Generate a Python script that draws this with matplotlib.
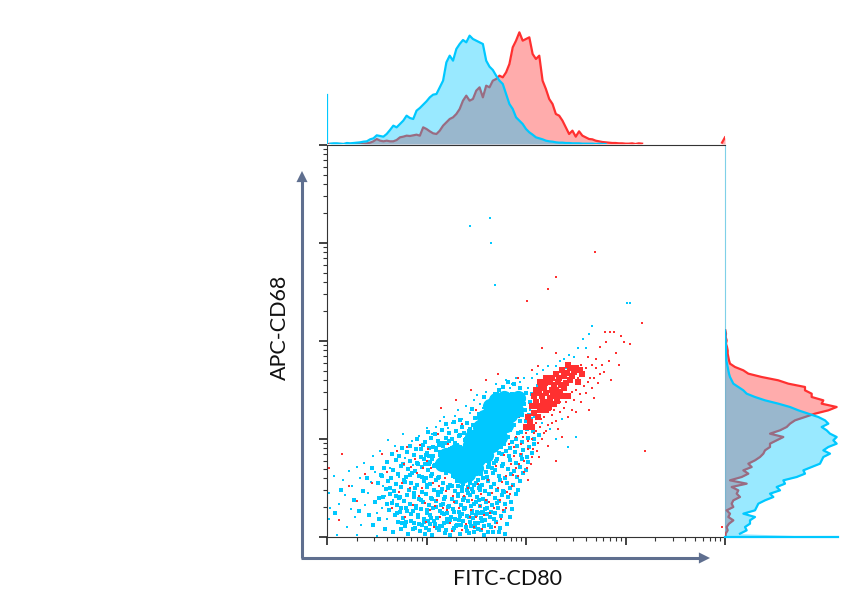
import numpy as np
import matplotlib
matplotlib.use('Agg')
import matplotlib.pyplot as plt
from matplotlib.ticker import LogLocator, NullFormatter

plt.rcParams['font.family'] = ['Lato', 'DejaVu Sans']

# histogram heights (bins are 1/30 decade wide)
blue_top = [148, 1, 2, 2, 1, 0, 3, 2, 3, 4, 5, 7, 8, 14, 17, 26, 24, 22, 30, 42, 55, 50, 60, 70, 85, 78, 75, 100,
            108, 118, 128, 140, 148, 150, 170, 190, 245, 265, 250, 285, 300, 312, 305, 325, 315, 310, 305, 300,
            250, 232, 222, 205, 190, 180, 150, 120, 105, 80, 70, 60, 45, 35, 28, 20, 17, 14, 10, 8, 7, 5, 4, 4,
            3, 3, 2, 2, 2, 1, 1, 1, 1, 0, 1, 0, 0]
red_top = [0, 0, 0, 0, 0, 0, 0, 0, 0, 0, 0, 1, 2, 4, 8, 15, 10, 8, 10, 8, 8, 12, 20, 22, 25, 24, 26, 28, 25, 50,
           45, 38, 32, 30, 40, 55, 65, 75, 80, 90, 105, 130, 145, 130, 135, 160, 170, 140, 175, 170, 190, 195,
           205, 200, 215, 240, 290, 310, 335, 310, 315, 320, 270, 255, 265, 190, 165, 135, 120, 90, 85, 70, 50,
           30, 40, 22, 38, 25, 20, 15, 14, 10, 8, 6, 5, 4, 3, 3, 2, 2, 1, 1, 2, 0, 2, 1]
red_top_end = [4, 20]

blue_right = [340, 45, 65, 60, 75, 75, 90, 55, 90, 95, 100, 120, 145, 135, 165, 155, 180, 175, 215, 240, 235, 260,
              285, 290, 295, 315, 295, 310, 335, 325, 335, 315, 305, 290, 310, 300, 280, 250, 220, 195, 160, 120,
              90, 65, 55, 40, 25, 20, 15, 12, 10, 8, 6, 4, 4, 3, 3, 3, 2, 2, 1, 1, 0]
red_right = [2, 2, 8, 5, 12, 25, 10, 15, 5, 25, 20, 25, 45, 35, 40, 20, 65, 15, 50, 70, 55, 80, 70, 90, 105, 115, 120,
             135, 135, 155, 175, 135, 165, 185, 195, 210, 240, 270, 310, 335, 290, 295, 260, 260, 240, 240, 190, 160,
             110, 70, 55, 30, 15, 12, 10, 8, 8, 6, 3, 5, 2, 3, 1]

# scatter points in decades (log10 x, log10 y)
blue_pts = np.array([
    [1.64, 3.26], [1.44, 3.17], [1.65, 3.00], [1.69, 2.57], [3.02, 2.39], [3.05, 2.39], [2.66, 2.15], [2.63, 2.07],
    [2.57, 2.02], [2.60, 1.93], [2.52, 1.93], [2.48, 1.84], [2.43, 1.86], [2.38, 1.82], [2.34, 1.80], [2.30, 1.75],
    [2.40, 1.72], [2.22, 1.74], [2.17, 1.70], [2.11, 1.66], [2.06, 1.62], [1.98, 1.62], [2.02, 1.52], [1.86, 1.56],
    [1.80, 1.60], [1.72, 1.47], [1.77, 1.40], [1.62, 1.38], [1.57, 1.32], [1.51, 1.45], [1.44, 1.27], [1.36, 1.20],
    [1.29, 1.23], [1.22, 1.11], [1.14, 1.18], [1.06, 1.05], [1.00, 1.11], [0.92, 1.03], [0.85, 0.98], [0.76, 1.05],
    [0.68, 0.93], [0.61, 0.99], [0.53, 0.88], [0.46, 0.83], [0.37, 0.76], [0.30, 0.71], [0.22, 0.67], [0.16, 0.58],
    [0.07, 0.62], [0.12, 0.34], [0.18, 0.43], [0.25, 0.52], [0.33, 0.60], [0.41, 0.45], [0.48, 0.66], [0.56, 0.52],
    [0.63, 0.70], [0.66, 0.38], [0.72, 0.61], [0.78, 0.81], [0.81, 0.47], [0.86, 0.73], [0.55, 0.30], [0.60, 0.18],
    [0.58, 0.42], [0.50, 0.25], [0.44, 0.56], [0.38, 0.33], [0.28, 0.20], [0.20, 0.10], [0.24, 0.29], [0.34, 0.12],
    [0.02, 0.45], [0.02, 0.18], [0.03, 0.30], [0.10, 0.02], [0.30, 0.02], [0.50, 0.01], [2.10, 1.42], [2.14, 1.48],
    [2.20, 1.34], [2.24, 1.10], [2.30, 1.00], [2.42, 0.92], [2.50, 1.02], [2.36, 1.20], [2.28, 1.42], [2.08, 1.22],
    [2.12, 1.28], [2.16, 1.16], [2.04, 1.30], [1.94, 1.58], [1.84, 1.52], [1.90, 1.62], [1.70, 1.56], [1.60, 1.48],
    [1.54, 1.36], [1.48, 1.40], [1.40, 1.34], [1.32, 1.30], [1.26, 1.16], [1.18, 1.22], [1.10, 1.12], [1.04, 1.00],
])
# the thick of the lower cloud
blue_cloud = np.array([
    [0.66, 0.05], [0.74, 0.08], [0.81, 0.03], [0.93, 0.06], [0.99, 0.09], [1.06, 0.02], [1.13, 0.07], [1.19, 0.04],
    [1.28, 0.09], [1.34, 0.03], [1.41, 0.06], [1.52, 0.08], [1.58, 0.02], [1.67, 0.05], [1.74, 0.09], [1.79, 0.03],
    [0.71, 0.15], [0.78, 0.11], [0.87, 0.14], [0.95, 0.12], [1.02, 0.16], [1.09, 0.13], [1.16, 0.11], [1.22, 0.15],
    [1.31, 0.12], [1.37, 0.16], [1.45, 0.11], [1.49, 0.14], [1.56, 0.16], [1.63, 0.12], [1.70, 0.15], [1.81, 0.13],
    [0.68, 0.22], [0.76, 0.19], [0.84, 0.23], [0.91, 0.20], [0.97, 0.18], [1.04, 0.22], [1.11, 0.19], [1.18, 0.23],
    [1.25, 0.20], [1.29, 0.18], [1.36, 0.23], [1.43, 0.20], [1.50, 0.22], [1.55, 0.19], [1.61, 0.23], [1.68, 0.18],
    [1.75, 0.21], [1.84, 0.20], [0.62, 0.28], [0.73, 0.26], [0.79, 0.30], [0.86, 0.27], [0.94, 0.29], [1.00, 0.25],
    [1.07, 0.30], [1.14, 0.27], [1.21, 0.25], [1.27, 0.29], [1.33, 0.26], [1.39, 0.30], [1.46, 0.27], [1.53, 0.25],
    [1.59, 0.29], [1.65, 0.26], [1.72, 0.30], [1.78, 0.27], [1.86, 0.29], [0.65, 0.35], [0.70, 0.33], [0.77, 0.37],
    [0.83, 0.34], [0.89, 0.32], [0.96, 0.36], [1.03, 0.33], [1.10, 0.37], [1.17, 0.34], [1.23, 0.32], [1.30, 0.36],
    [1.35, 0.33], [1.42, 0.37], [1.48, 0.34], [1.54, 0.32], [1.60, 0.36], [1.66, 0.33], [1.73, 0.37], [1.79, 0.34],
    [1.85, 0.36], [0.56, 0.41], [0.63, 0.44], [0.72, 0.40], [0.80, 0.43], [0.87, 0.41], [0.92, 0.39], [0.99, 0.44],
    [1.05, 0.40], [1.12, 0.43], [1.19, 0.41], [1.26, 0.39], [1.32, 0.44], [1.38, 0.40], [1.44, 0.43], [1.51, 0.41],
    [1.57, 0.39], [1.63, 0.44], [1.69, 0.40], [1.76, 0.43], [1.82, 0.41], [1.90, 0.44], [0.59, 0.49], [0.67, 0.47],
    [0.74, 0.51], [0.82, 0.48], [0.88, 0.50], [0.95, 0.46], [1.01, 0.51], [1.08, 0.48], [1.15, 0.46], [1.22, 0.50],
    [1.29, 0.47], [1.36, 0.51], [1.41, 0.48], [1.47, 0.46], [1.53, 0.50], [1.59, 0.47], [1.65, 0.51], [1.71, 0.48],
    [1.78, 0.46], [1.84, 0.50], [1.92, 0.48], [0.51, 0.55], [0.61, 0.57], [0.69, 0.54], [0.77, 0.58], [0.84, 0.55],
    [0.90, 0.53], [0.97, 0.57], [1.04, 0.54], [1.10, 0.58], [1.17, 0.55], [1.24, 0.53], [1.31, 0.57], [1.37, 0.54],
    [1.43, 0.58], [1.50, 0.55], [1.56, 0.53], [1.62, 0.57], [1.68, 0.54], [1.74, 0.58], [1.81, 0.55], [1.87, 0.53],
    [1.94, 0.57], [0.54, 0.63], [0.64, 0.60], [0.71, 0.64], [0.79, 0.61], [0.85, 0.65], [0.92, 0.62], [0.99, 0.60],
    [1.06, 0.64], [1.13, 0.61], [1.20, 0.65], [1.27, 0.62], [1.55, 0.64], [1.61, 0.61], [1.67, 0.65], [1.73, 0.62],
    [1.79, 0.60], [1.85, 0.64], [1.91, 0.61], [1.97, 0.65], [0.57, 0.70], [0.66, 0.68], [0.74, 0.72], [0.81, 0.69],
    [0.88, 0.67], [0.95, 0.71], [1.02, 0.68], [1.08, 0.72], [1.15, 0.69], [1.22, 0.67], [1.62, 0.71], [1.69, 0.68],
    [1.76, 0.72], [1.82, 0.69], [1.88, 0.67], [1.94, 0.71], [2.00, 0.68], [0.60, 0.77], [0.69, 0.79], [0.76, 0.75],
    [0.83, 0.78], [0.90, 0.76], [0.97, 0.80], [1.04, 0.77], [1.11, 0.75], [1.18, 0.79], [1.24, 0.76], [1.70, 0.78],
    [1.77, 0.75], [1.84, 0.79], [1.90, 0.76], [1.96, 0.80], [2.02, 0.77], [0.65, 0.85], [0.72, 0.83], [0.80, 0.87],
    [0.87, 0.84], [0.94, 0.82], [1.01, 0.86], [1.07, 0.83], [1.14, 0.87], [1.21, 0.84], [1.28, 0.82], [1.76, 0.85],
    [1.83, 0.83], [1.89, 0.87], [1.95, 0.84], [2.01, 0.82], [2.06, 0.86], [0.75, 0.91], [0.83, 0.93], [0.89, 0.90],
    [0.96, 0.94], [1.03, 0.91], [1.10, 0.89], [1.17, 0.93], [1.24, 0.90], [1.31, 0.94], [1.84, 0.91], [1.91, 0.93],
    [1.97, 0.89], [2.03, 0.92], [2.08, 0.95], [0.90, 1.00], [0.98, 0.97], [1.05, 1.01], [1.12, 0.98], [1.19, 0.96],
    [1.26, 1.00], [1.33, 1.03], [1.39, 0.99], [1.90, 1.00], [1.96, 0.97], [2.02, 1.01], [2.08, 1.00], [2.13, 1.04],
    [1.02, 1.07], [1.09, 1.05], [1.16, 1.09], [1.23, 1.06], [1.30, 1.08], [1.36, 1.12], [1.43, 1.08], [1.47, 1.14],
    [1.95, 1.07], [2.01, 1.10], [2.07, 1.08], [1.20, 1.15], [1.28, 1.17], [1.34, 1.19], [1.41, 1.16], [1.49, 1.21],
    [1.53, 1.26], [1.46, 1.31], [1.56, 1.18], [2.00, 1.18], [2.05, 1.20], [1.60, 1.34], [1.65, 1.30], [1.58, 1.43],
    [1.67, 1.41], [1.73, 1.50], [1.77, 1.53], [1.69, 1.46], [1.88, 1.56], [1.94, 1.52], [2.00, 1.47], [2.04, 1.38],
    [1.98, 1.36], [2.06, 1.46], [2.12, 1.54], [1.82, 1.58], [0.48, 0.36], [0.45, 0.70], [0.40, 0.60], [0.52, 0.18],
    [0.46, 0.12], [0.58, 0.08], [0.36, 0.47], [0.27, 0.38], [0.14, 0.48], [0.32, 0.27], [0.08, 0.25], [0.42, 0.22],
])
# second pass over the cloud, off the rows of the first
blue_fill = np.array([
    [0.89, 0.30], [1.04, 0.13], [1.11, 0.09], [1.15, 0.33], [1.21, 0.18], [1.27, 0.07], [1.35, 0.12], [1.37, 0.38],
    [1.41, 0.21], [1.43, 0.04], [1.45, 0.32], [1.49, 0.10], [1.51, 0.26], [1.53, 0.38], [1.55, 0.07], [1.59, 0.17],
    [1.61, 0.30], [1.65, 0.10], [1.69, 0.24], [1.71, 0.35], [1.73, 0.05], [1.77, 0.47], [0.70, 0.24], [0.75, 0.14],
    [0.80, 0.27], [0.84, 0.16], [0.88, 0.09], [0.91, 0.22], [0.94, 0.38], [0.97, 0.15], [1.01, 0.28], [1.03, 0.07],
    [1.06, 0.39], [1.08, 0.16], [1.10, 0.31], [1.12, 0.46], [1.14, 0.11], [1.16, 0.24], [1.18, 0.39], [1.20, 0.07],
    [1.22, 0.31], [1.24, 0.17], [1.26, 0.52], [1.28, 0.26], [1.30, 0.11], [1.32, 0.42], [1.34, 0.21], [1.38, 0.29],
    [1.40, 0.10], [1.42, 0.45], [1.44, 0.15], [1.46, 0.24], [1.48, 0.05], [1.50, 0.36], [1.52, 0.14], [1.54, 0.48],
    [1.56, 0.26], [1.58, 0.11], [1.60, 0.37], [1.62, 0.05], [1.64, 0.20], [0.73, 0.41], [0.78, 0.56], [0.83, 0.63],
    [0.87, 0.45], [0.91, 0.75], [0.95, 0.61], [0.98, 0.74], [1.01, 0.53], [1.03, 0.83], [1.05, 0.62], [1.09, 0.73],
    [1.10, 0.91], [1.12, 0.60], [1.14, 0.84], [1.16, 0.49], [1.18, 0.72], [1.20, 1.01], [1.22, 0.51], [1.25, 0.69],
    [1.26, 0.91], [1.29, 0.61], [1.32, 0.52], [1.34, 0.92], [1.36, 0.47], [1.38, 1.06], [1.42, 0.51], [1.44, 0.55],
    [1.46, 0.49], [1.48, 0.53], [1.52, 0.58], [1.54, 0.52], [1.57, 0.60], [1.60, 0.66], [1.63, 0.74], [1.66, 0.70],
    [1.68, 0.76], [1.71, 0.80], [1.73, 0.86], [1.75, 0.92], [1.78, 0.95], [1.80, 0.88], [1.82, 1.02], [1.84, 1.09],
    [1.86, 0.97], [1.88, 1.14], [1.92, 1.06], [1.94, 1.18], [1.96, 1.24], [1.99, 1.30], [2.03, 1.25], [1.86, 1.46],
    [1.74, 1.44], [1.62, 1.28], [1.55, 1.22], [1.52, 1.10], [1.44, 1.10], [1.40, 1.00], [1.34, 1.04], [1.29, 0.96],
    [1.23, 0.98], [1.16, 0.96], [1.13, 0.94], [1.07, 0.92], [0.94, 0.90], [0.99, 0.84], [1.03, 0.74], [1.06, 0.80],
    [0.69, 0.42], [0.74, 0.30], [0.60, 0.34], [0.63, 0.50], [0.55, 0.62], [0.52, 0.40], [0.79, 0.15], [0.86, 0.08],
    [0.92, 0.13], [0.98, 0.03], [1.05, 0.19], [1.18, 0.14], [1.24, 0.02], [1.33, 0.17], [1.47, 0.19], [1.57, 0.24],
])
# blue band of solid colour, as circles
blue_core = np.array([
    [1.16, 0.74], [1.26, 0.72], [1.34, 0.68], [1.42, 0.64], [1.32, 0.78], [1.40, 0.76], [1.48, 0.72], [1.38, 0.86],
    [1.46, 0.84], [1.52, 0.80], [1.44, 0.94], [1.50, 0.90], [1.56, 0.88], [1.52, 1.00], [1.58, 0.96], [1.60, 1.06],
    [1.66, 1.04], [1.62, 1.14], [1.68, 1.12], [1.72, 1.10], [1.68, 1.22], [1.74, 1.18], [1.72, 1.30], [1.78, 1.26],
    [1.76, 1.36], [1.82, 1.32], [1.84, 1.40], [1.78, 1.42], [1.88, 1.38], [1.92, 1.42], [1.24, 0.82], [1.36, 0.62],
    [1.50, 0.70], [1.30, 0.88], [1.60, 0.84], [1.66, 0.94], [1.74, 1.02], [1.80, 1.14], [1.84, 1.24], [1.90, 1.30],
    [1.58, 1.22], [1.64, 1.34], [1.46, 1.02], [1.20, 0.84], [1.54, 1.12], [1.70, 1.40],
])
red_pts = np.array([
    [2.30, 2.65], [2.22, 2.53], [2.01, 2.41], [2.69, 2.91], [3.20, 0.88], [3.97, 0.10], [3.17, 2.18], [2.79, 2.09],
    [2.84, 2.09], [2.88, 2.09], [2.95, 2.05], [3.05, 1.97], [2.98, 1.99], [2.80, 1.99], [2.74, 1.94], [2.90, 1.88],
    [2.83, 1.80], [2.93, 1.76], [2.70, 1.72], [2.78, 1.68], [2.85, 1.60], [2.72, 1.57], [2.66, 1.52], [2.60, 1.47],
    [2.50, 1.50], [2.44, 1.42], [2.38, 1.32], [2.50, 1.28], [2.26, 1.16], [2.32, 1.10], [2.46, 1.30], [2.63, 1.30],
    [2.36, 1.02], [2.16, 1.00], [2.22, 0.93], [2.07, 0.90], [2.13, 0.82], [2.05, 0.74], [1.98, 0.66], [2.02, 0.58],
    [1.90, 0.70], [1.86, 0.52], [1.80, 0.62], [1.74, 0.38], [1.66, 0.45], [1.58, 0.22], [1.46, 0.38], [1.40, 0.13],
    [1.33, 0.30], [1.26, 0.06], [1.20, 0.47], [1.14, 0.20], [1.07, 0.55], [0.98, 0.35], [0.90, 0.65], [0.83, 0.50],
    [0.77, 0.75], [0.70, 0.88], [0.60, 0.66], [0.55, 0.85], [0.45, 0.55], [0.38, 0.64], [0.30, 0.37], [0.22, 0.52],
    [0.15, 0.85], [0.12, 0.17], [0.02, 0.70], [1.65, 1.08], [1.52, 0.54], [1.44, 0.92], [1.30, 0.74], [1.22, 0.95],
    [1.12, 1.05], [1.02, 0.90], [0.93, 0.94], [1.36, 1.15], [1.50, 1.30], [1.55, 1.00], [1.70, 0.72], [1.78, 0.84],
    [1.83, 0.95], [1.90, 1.02], [1.95, 0.85], [2.00, 1.06], [2.04, 1.14], [2.10, 1.08], [2.18, 1.22], [2.24, 1.30],
    [1.93, 1.22], [1.85, 0.75], [1.76, 0.56], [1.68, 0.30], [1.62, 0.58], [1.54, 0.32], [1.48, 0.10], [1.42, 0.50],
    [1.35, 0.58], [1.28, 0.36], [1.17, 0.30], [1.08, 0.10], [0.99, 0.15], [0.92, 0.42], [2.40, 1.76], [2.55, 1.76],
    [2.58, 1.66], [2.64, 1.62], [2.68, 1.42], [2.55, 1.38], [2.42, 1.22], [2.30, 1.88], [2.16, 1.93], [2.12, 1.75],
    [2.06, 1.70], [1.92, 1.62], [1.72, 1.66], [1.60, 1.60], [1.45, 1.50], [1.30, 1.40], [1.15, 1.32], [2.30, 0.78],
    [1.95, 0.95], [1.98, 0.78], [2.02, 0.90], [2.06, 1.00], [1.92, 0.62], [1.88, 0.83], [1.84, 0.44], [1.80, 0.30],
    [1.75, 0.18], [1.72, 0.50], [1.69, 0.10], [1.64, 0.24], [1.60, 0.38], [1.56, 0.08], [1.50, 0.20], [1.45, 0.28],
    [1.38, 0.42], [1.24, 0.14], [1.19, 0.60], [1.11, 0.38], [1.04, 0.28], [0.96, 0.70], [0.86, 0.33], [0.78, 0.20],
    [0.72, 0.46], [0.65, 0.30], [0.88, 0.80], [0.80, 0.92], [1.00, 0.78], [1.16, 0.88], [2.10, 1.16], [2.14, 1.12],
    [2.18, 1.06], [2.22, 1.14], [2.26, 1.24], [2.30, 1.18], [2.34, 1.28], [2.12, 0.96], [2.08, 1.06], [2.02, 0.98],
    [2.48, 1.40], [2.54, 1.46], [2.58, 1.54], [2.62, 1.58], [2.68, 1.62], [2.74, 1.66], [2.76, 1.76], [2.70, 1.82],
    [2.66, 1.76], [2.60, 1.72], [2.52, 1.62], [2.46, 1.48], [2.40, 1.38], [2.34, 1.38], [2.28, 1.30], [2.62, 1.84],
    [1.88, 0.92], [1.93, 0.74], [1.97, 1.02], [2.01, 0.70], [1.87, 0.63], [1.81, 0.46], [1.77, 0.28], [1.71, 0.14],
    [1.63, 0.36], [1.55, 0.44], [1.44, 0.20], [1.36, 0.07], [1.27, 0.42], [1.21, 0.28], [1.13, 0.52], [1.09, 0.32],
    [0.95, 0.50], [0.84, 0.71], [0.75, 0.55], [1.05, 0.70], [2.15, 1.20], [2.20, 1.08], [2.06, 0.82], [2.11, 0.88],
])
red_core = np.array([
    [2.10, 1.50], [2.16, 1.44], [2.22, 1.38], [2.18, 1.52], [2.26, 1.50], [2.30, 1.44], [2.24, 1.58], [2.32, 1.58],
    [2.38, 1.52], [2.30, 1.66], [2.38, 1.64], [2.44, 1.60], [2.20, 1.30], [2.28, 1.36], [2.14, 1.30], [2.10, 1.38],
    [2.48, 1.68], [2.56, 1.66], [2.44, 1.72], [2.52, 1.58], [2.14, 1.58], [2.20, 1.62], [2.34, 1.48], [2.42, 1.44],
    [2.06, 1.34], [2.02, 1.22], [2.06, 1.12], [2.00, 1.12], [2.12, 1.22], [2.18, 1.32], [2.08, 1.44], [2.36, 1.70],
    [2.13, 1.47], [2.20, 1.47], [2.28, 1.55], [2.35, 1.55], [2.27, 1.44], [2.23, 1.33], [2.17, 1.38], [2.12, 1.34],
    [2.08, 1.27], [2.04, 1.17], [2.41, 1.67], [2.33, 1.62], [2.26, 1.62], [2.40, 1.57], [2.46, 1.64], [2.30, 1.50],
    [2.19, 1.57], [2.15, 1.53], [2.24, 1.42], [2.31, 1.39], [2.36, 1.44], [2.50, 1.72], [2.42, 1.76], [2.54, 1.70],
])

fig = plt.figure(figsize=(8.5, 6.04), dpi=100)
W, H = 850., 604.

ax = fig.add_axes([327/W, 1-537/H, 398/W, 392/H])
ax.set_xscale('log')
ax.set_yscale('log')
ax.set_xlim(1, 1e4)
ax.set_ylim(1, 1e4)

#%% scatter
blue = '#00c8ff'
red = '#ff3030'
ax.scatter(10**blue_pts[:, 0], 10**blue_pts[:, 1], s=4, c=blue, lw=0, marker='s', zorder=2)
ax.scatter(10**blue_cloud[:, 0], 10**blue_cloud[:, 1], s=6, c=blue, lw=0, marker='s', zorder=2)
ax.scatter(10**blue_fill[:, 0], 10**blue_fill[:, 1], s=6, c=blue, lw=0, marker='s', zorder=2)
ax.scatter(10**red_core[:, 0], 10**red_core[:, 1], s=20, c=red, lw=0, marker='s', zorder=3)
ax.scatter(10**red_pts[:, 0], 10**red_pts[:, 1], s=4, c=red, lw=0, marker='s', zorder=3)
ax.scatter(10**blue_core[:, 0], 10**blue_core[:, 1], s=120, c=blue, lw=0, marker='o', zorder=4)

for axis in (ax.xaxis, ax.yaxis):
    axis.set_major_locator(LogLocator(base=10, numticks=6))
    axis.set_minor_locator(LogLocator(base=10, subs=np.arange(2, 10), numticks=6))
    axis.set_major_formatter(NullFormatter())
    axis.set_minor_formatter(NullFormatter())
ax.tick_params(which='major', length=6, width=1.2, color='#222222')
ax.tick_params(which='minor', length=3, width=0.8, color='#333333')
ax.spines['right'].set_color('#7fd0e8')
for s in ('left', 'bottom', 'top'):
    ax.spines[s].set_color('#333333')

#%% top histogram
ax_top = fig.add_axes([327/W, 1-144/H, 398/W, 115/H])
ax_top.set_xlim(0, 4)
ax_top.set_ylim(0, 345)
ax_top.axis('off')
red_x = np.arange(len(red_top)) / 30.
blue_x = np.arange(len(blue_top)) / 30.
ax_top.fill_between(red_x, red_top, color=red, alpha=0.4, lw=0, zorder=1)
ax_top.plot(red_x, red_top, color=red, lw=1.6, zorder=2)
ax_top.fill_between([3.97, 4.0], red_top_end, color=red, alpha=0.4, lw=0, zorder=1)
ax_top.plot([3.97, 4.0], red_top_end, color=red, lw=1.6, zorder=2)
ax_top.fill_between(blue_x[1:], blue_top[1:], color=blue, alpha=0.4, lw=0, zorder=3)
ax_top.plot(blue_x[1:], blue_top[1:], color=blue, lw=1.6, zorder=4)
ax_top.plot([0, 0], [0, blue_top[0]], color=blue, lw=1.6, zorder=4)

#%% right histogram
ax_right = fig.add_axes([725/W, 1-537/H, 115/W, 392/H])
ax_right.set_xlim(0, 345)
ax_right.set_ylim(0, 4)
ax_right.axis('off')
ry = np.arange(len(red_right)) / 29.4
by = np.arange(len(blue_right)) / 29.4
ax_right.fill_betweenx(ry, red_right, color=red, alpha=0.4, lw=0, zorder=1)
ax_right.plot(red_right, ry, color=red, lw=1.6, zorder=2)
ax_right.fill_betweenx(by, blue_right, color=blue, alpha=0.4, lw=0, zorder=3)
ax_right.plot(blue_right[1:], by[1:], color=blue, lw=1.6, zorder=4)
ax_right.plot([0, blue_right[0]], [0.005, 0.005], color=blue, lw=1.6, clip_on=False, zorder=4)

#%% arrows and labels
ov = fig.add_axes([0, 0, 1, 1], facecolor='none')
ov.set_xlim(0, W)
ov.set_ylim(H, 0)
ov.axis('off')
arrow_col = '#5f6f8f'
ov.plot([302, 302], [558, 180], color=arrow_col, lw=2.2, solid_capstyle='butt')
ov.plot([301, 700], [558, 558], color=arrow_col, lw=2.2, solid_capstyle='butt')
ov.annotate('', xy=(302, 171), xytext=(302, 184), arrowprops=dict(arrowstyle='-|>', color=arrow_col, lw=0, mutation_scale=20, shrinkA=0, shrinkB=0))
ov.annotate('', xy=(710, 558), xytext=(697, 558), arrowprops=dict(arrowstyle='-|>', color=arrow_col, lw=0, mutation_scale=20, shrinkA=0, shrinkB=0))
ov.text(507.5, 579, 'FITC-CD80', ha='center', va='center', fontsize=15.5, color='#111111')
ov.text(280, 327, 'APC-CD68', ha='center', va='center', rotation=90, fontsize=15.5, color='#111111')

fig.savefig('out.png', dpi=100)
